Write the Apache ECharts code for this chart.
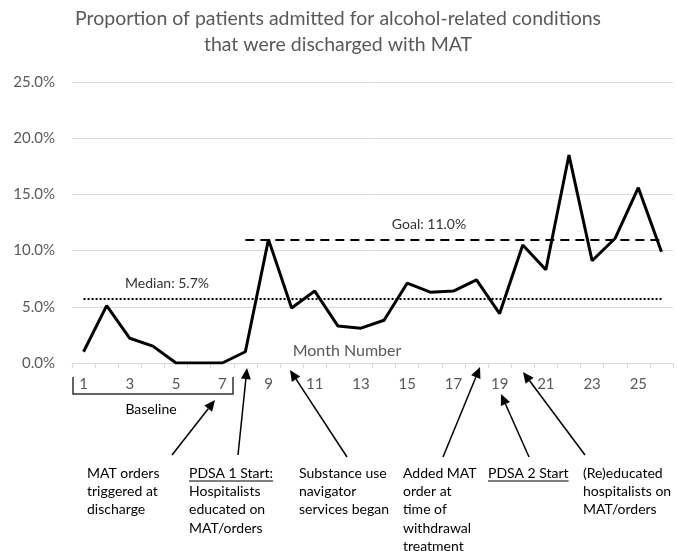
<!DOCTYPE html>
<html>
<head>
<meta charset="utf-8">
<script src="https://cdn.jsdelivr.net/npm/echarts@6/dist/echarts.min.js"></script>
<style>
html,body{margin:0;padding:0;background:#fff;}
#chart{width:677px;height:551px;}
</style>
</head>
<body>
<div id="chart"></div>
<script>
// ---- data ----
var titleLines = ['Proportion of patients admitted for alcohol-related conditions', 'that were discharged with MAT'];
var months = ['1','2','3','4','5','6','7','8','9','10','11','12','13','14','15','16','17','18','19','20','21','22','23','24','25','26'];
var rates = [1.0, 5.1, 2.2, 1.5, 0, 0, 0, 1.0, 11.0, 4.9, 6.4, 3.3, 3.1, 3.8, 7.1, 6.3, 6.4, 7.4, 4.4, 10.5, 8.3, 18.5, 9.1, 11.1, 15.6, 9.9];
var medianValue = 5.7;
var goalValue = 11.0;
var goalStartMonth = '8';
var yTicks = [0, 5, 10, 15, 20, 25];

var FONT = 'Lato';
var GRAY = '#595959';
var ANN_FONT = '14px ' + FONT;

var chart = echarts.init(document.getElementById('chart'));
var measureCtx = document.createElement('canvas').getContext('2d');
function textWidth(t, font) { measureCtx.font = font; return measureCtx.measureText(t).width; }

function arrow(x1, y1, x2, y2) {
  var dx = x2 - x1, dy = y2 - y1, len = Math.sqrt(dx*dx + dy*dy);
  var ux = dx/len, uy = dy/len;
  var hl = 11, hw = 5;
  var bx = x2 - ux*hl, by = y2 - uy*hl;
  return [
    {type:'line', shape:{x1:x1, y1:y1, x2:bx, y2:by}, style:{stroke:'#000', lineWidth:1.5}},
    {type:'polygon', shape:{points:[[x2,y2],[bx - uy*hw, by + ux*hw],[bx + uy*hw, by - ux*hw]]}, style:{fill:'#000'}}
  ];
}
function textBlock(x, y, lines, underlineFirst) {
  var els = [];
  for (var i = 0; i < lines.length; i++) {
    els.push({type:'text', x:x, y:y + i*18.4, style:{text:lines[i], fill:'#000', font:ANN_FONT, verticalAlign:'middle'}});
  }
  if (underlineFirst) {
    var w = textWidth(lines[0], ANN_FONT);
    els.push({type:'line', shape:{x1:x, y1:y+8, x2:x+w, y2:y+8}, style:{stroke:'#000', lineWidth:1}});
  }
  return els;
}

var graphics = [];
// title
graphics.push({type:'text', x:338, y:19, style:{text:titleLines[0], fill:GRAY, font:'19.5px ' + FONT, align:'center', verticalAlign:'middle'}});
graphics.push({type:'text', x:338, y:45, style:{text:titleLines[1], fill:GRAY, font:'19.5px ' + FONT, align:'center', verticalAlign:'middle'}});
// axis name
graphics.push({type:'text', x:347, y:351, style:{text:'Month Number', fill:GRAY, font:'16px ' + FONT, align:'center', verticalAlign:'middle'}});
// median / goal labels
graphics.push({type:'text', x:167, y:283, style:{text:'Median: 5.7%', fill:'#333', font:'14px ' + FONT, align:'center', verticalAlign:'middle'}});
graphics.push({type:'text', x:429, y:224, style:{text:'Goal: 11.0%', fill:'#333', font:'14px ' + FONT, align:'center', verticalAlign:'middle'}});
// baseline bracket
graphics.push({type:'polyline', shape:{points:[[73,377],[73,394],[233,394],[233,377]]}, style:{stroke:'#333', lineWidth:1.5, fill:null}});
graphics.push({type:'text', x:151, y:409, style:{text:'Baseline', fill:'#000', font:ANN_FONT, align:'center', verticalAlign:'middle'}});
// arrows
graphics = graphics.concat(arrow(172, 455, 215, 400));
graphics = graphics.concat(arrow(238, 455, 247, 368));
graphics = graphics.concat(arrow(347, 457, 290, 370));
graphics = graphics.concat(arrow(443, 457, 480, 367));
graphics = graphics.concat(arrow(529, 457, 501, 394));
graphics = graphics.concat(arrow(585, 455, 523, 372));
// annotation texts
graphics = graphics.concat(textBlock(87, 473, ['MAT orders', 'triggered at', 'discharge']));
graphics = graphics.concat(textBlock(189, 473, ['PDSA 1 Start:', 'Hospitalists', 'educated on', 'MAT/orders'], true));
graphics = graphics.concat(textBlock(299, 473, ['Substance use', 'navigator', 'services began']));
graphics = graphics.concat(textBlock(403, 473, ['Added MAT', 'order at', 'time of', 'withdrawal', 'treatment']));
graphics = graphics.concat(textBlock(488, 473, ['PDSA 2 Start'], true));
graphics = graphics.concat(textBlock(583, 473, ['(Re)educated', 'hospitalists on', 'MAT/orders']));

chart.setOption({
  animation: false,
  backgroundColor: '#fff',
  grid: {left: 72, right: 4, top: 82, bottom: 188, containLabel: false},
  xAxis: {
    type: 'category',
    data: months,
    boundaryGap: true,
    axisLine: {lineStyle: {color: '#d9d9d9', width: 1}},
    axisTick: {show: true, alignWithLabel: false, interval: 0, length: 5, lineStyle: {color: '#d9d9d9'}},
    axisLabel: {interval: 1, color: GRAY, fontFamily: FONT, fontSize: 15, margin: 14},
    splitLine: {show: false}
  },
  yAxis: {
    type: 'value',
    min: yTicks[0],
    max: yTicks[yTicks.length - 1],
    interval: 5,
    axisLine: {show: false},
    axisTick: {show: false},
    axisLabel: {color: GRAY, fontFamily: FONT, fontSize: 15, margin: 17, formatter: function (v) { return v.toFixed(1) + '%'; }},
    splitLine: {lineStyle: {color: '#d9d9d9', width: 1}}
  },
  series: [{
    type: 'line',
    data: rates,
    symbol: 'none',
    lineStyle: {color: '#000', width: 3},
    z: 3,
    markLine: {
      silent: true,
      symbol: ['none', 'none'],
      label: {show: false},
      data: [
        [{coord: [months[0], medianValue]}, {coord: [months[months.length - 1], medianValue]}],
        [{coord: [goalStartMonth, goalValue], lineStyle: {type: [9, 6]}}, {coord: [months[months.length - 1], goalValue]}]
      ],
      lineStyle: {color: '#000', width: 2, type: 'dotted'}
    }
  }],
  graphic: graphics
});
</script>
</body>
</html>
